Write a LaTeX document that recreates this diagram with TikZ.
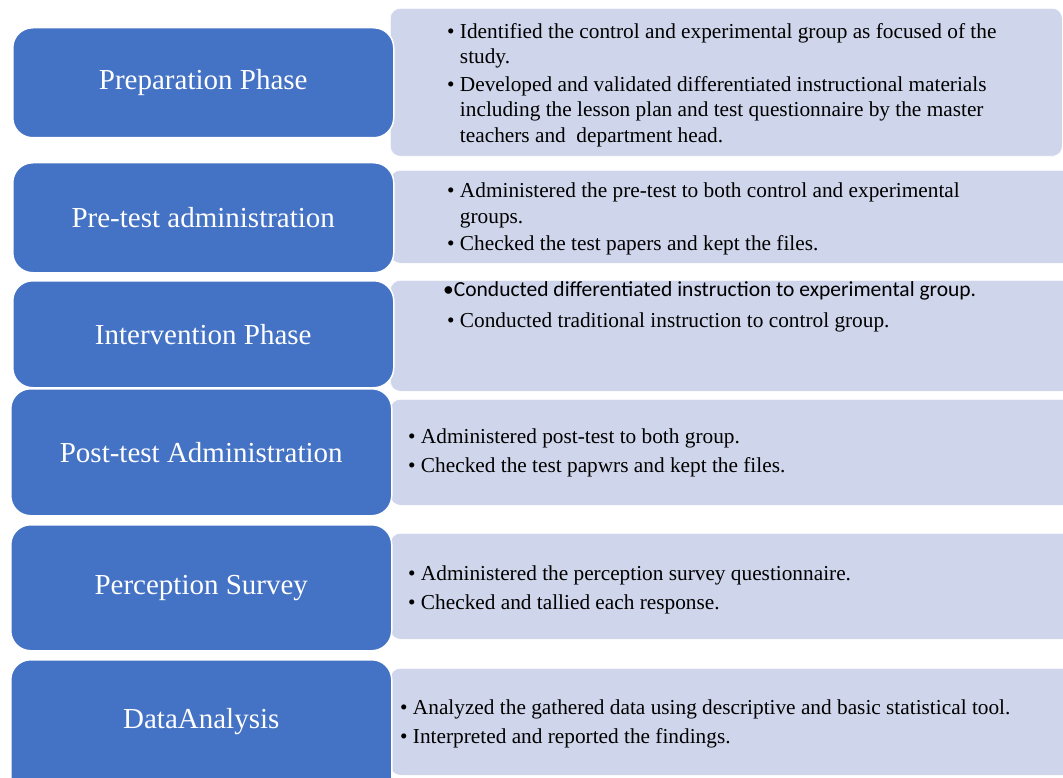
\documentclass[tikz,border=0pt]{standalone}
\usepackage{fontspec}
\setmainfont{Liberation Serif}
\setsansfont{Carlito}
\definecolor{phaseblue}{RGB}{68,114,196}
\definecolor{detailgray}{RGB}{207,213,234}
\newcommand{\hang}{\phantom{\textbullet\ }}

\begin{document}
\begin{tikzpicture}[x=1pt,y=-1pt,
  phase/.style={draw=white, line width=1.5pt, fill=phaseblue, rounded corners=20pt, text=white,
    font=\fontsize{29}{34}\selectfont, minimum width=381pt, anchor=north west, inner sep=0pt},
  detail/.style={draw=white, line width=0.6pt, fill=detailgray, rounded corners=10pt,
    anchor=north west, inner sep=0pt},
  item/.style={align=left, inner sep=0pt, font=\fontsize{21.3}{25.5}\selectfont}]
\useasboundingbox (0,0) rectangle (1063,778);
\clip (0,0) rectangle (1063,778);

\node[detail, minimum width=672pt, minimum height=148pt] (d1) at (390,8) {};
\node[detail, minimum width=690pt, minimum height=93pt] (d2) at (390,170) {};
\node[detail, minimum width=690pt, minimum height=111pt] (d3) at (390,280) {};
\node[detail, minimum width=690pt, minimum height=106pt] (d4) at (390,399) {};
\node[detail, minimum width=690pt, minimum height=106pt] (d5) at (390,533) {};
\node[detail, minimum width=690pt, minimum height=107pt] (d6) at (390,668) {};

\node[phase, minimum height=110pt] (p1) at (12,27) {Preparation Phase};
\node[phase, minimum height=110pt] (p2) at (12,162) {Pre-test administration};
\node[phase, minimum height=107pt] (p3) at (12,280) {Intervention Phase};
\node[phase, minimum height=127pt] (p4) at (10,388) {Post-test Administration};
\node[phase, minimum height=126pt] (p5) at (10,524) {Perception Survey};
\node[phase, minimum height=140pt, text depth=22pt] (p6) at (10,659) {DataAnalysis};

% bullet lists
\node[item, anchor=west] (t1) at (447,85) {%
  \textbullet\ Identified the control and experimental group as focused of the\\
  \hang study.\\[2pt]
  \textbullet\ Developed and validated differentiated instructional materials\\
  \hang including the lesson plan and test questionnaire by the master\\
  \hang teachers and\ \ department head.};
\node[item, anchor=west] (t2) at (447,219) {%
  \textbullet\ Administered the pre-test to both control and experimental\\
  \hang groups.\\[2pt]
  \textbullet\ Checked the test papers and kept the files.};
\node[item, anchor=north west] (t3) at (443,281) {%
  {\sffamily\fontsize{21.5}{25}\selectfont •Conducted differentiated instruction to experimental group.}\\[6pt]
  \hspace{4pt}\textbullet\ Conducted traditional instruction to control group.};
\node[item, anchor=west] (t4) at (408,453) {%
  \textbullet\ Administered post-test to both group.\\[3pt]
  \textbullet\ Checked the test papwrs and kept the files.};
\node[item, anchor=west] (t5) at (408,590) {%
  \textbullet\ Administered the perception survey questionnaire.\\[3pt]
  \textbullet\ Checked and tallied each response.};
\node[item, anchor=west] (t6) at (400,724) {%
  \textbullet\ Analyzed the gathered data using descriptive and basic statistical tool.\\[3pt]
  \textbullet\ Interpreted and reported the findings.};
\end{tikzpicture}
\end{document}
